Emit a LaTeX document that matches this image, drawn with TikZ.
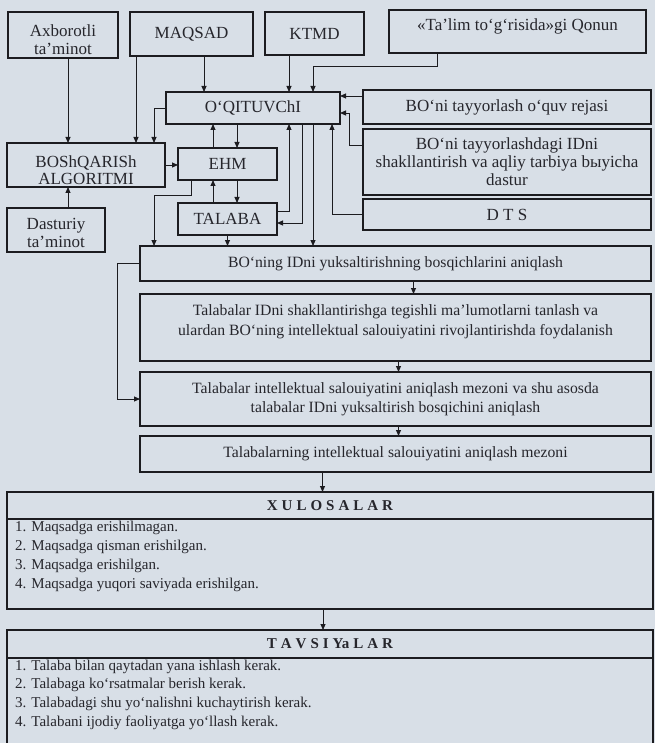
\documentclass[tikz,border=0pt]{standalone}
\usepackage{fontspec}
\setmainfont{Liberation Serif}
\usetikzlibrary{arrows.meta}
\definecolor{bg}{RGB}{216,223,231}
\definecolor{ln}{RGB}{28,28,32}
\definecolor{tx}{RGB}{38,38,44}
\begin{document}
\begin{tikzpicture}[x=1pt,y=-1pt,
  box/.style={draw=ln, line width=1.1pt, fill=bg, inner sep=0pt, outer sep=0pt, align=center, text=tx, anchor=north west},
  pal/.style={font=\fontsize{17}{18}\selectfont},
  tms/.style={font=\fontsize{15.7}{19.5}\selectfont},
  txt/.style={inner sep=0pt, align=center, text=tx},
  item/.style={inner sep=0pt, anchor=base west, text=tx, font=\fontsize{15}{18}\selectfont},
  ttl/.style={inner sep=0pt, text=tx, font=\fontsize{15}{18}\selectfont\bfseries},
  arr/.style={draw=ln, line width=0.9pt, -{Triangle[length=6pt,width=5pt]}},
  sep/.style={draw=ln, line width=1.1pt}]
\fill[bg] (0,0) rectangle (655,743);
\useasboundingbox (0,0) rectangle (655,743);

% top row
\node[box, minimum width=110pt, minimum height=46pt] (ax) at (8,12) {};
\node[txt, pal] at ([yshift=-5pt]ax.center) {Axborotli\\ta’minot};
\node[box, pal, minimum width=123pt, minimum height=44pt] (maq) at (130,12) {MAQSAD};
\node[box, pal, minimum width=99pt, minimum height=43pt] (ktmd) at (265,12) {KTMD};
\node[box, minimum width=257pt, minimum height=43pt] (qon) at (389,10) {};
\node[txt, pal] at ([yshift=5pt]qon.center) {«Ta’lim to‘g‘risida»gi Qonun};

% middle
\node[box, pal, minimum width=174pt, minimum height=32pt] (oq) at (166,92) {O‘QITUVChI};
\node[box, pal, minimum width=288pt, minimum height=34pt] (rej) at (363,90) {BO‘ni tayyorlash o‘quv rejasi};
\node[box, pal, minimum width=288pt, minimum height=66pt] (das) at (363,129) {BO‘ni tayyorlashdagi IDni\\shakllantirish va aqliy tarbiya bыyicha\\dastur};
\node[box, pal, minimum width=288pt, minimum height=31pt] (dts) at (363,199) {D T S};
\node[box, minimum width=158pt, minimum height=44pt] (bos) at (7,143) {};
\node[txt, font=\fontsize{17}{17}\selectfont] at ([yshift=-5pt]bos.center) {BOShQARISh\\ALGORITMI};
\node[box, pal, minimum width=99pt, minimum height=32pt] (ehm) at (178,148) {EHM};
\node[box, pal, minimum width=99pt, minimum height=32pt] (tal) at (178,203) {TALABA};
\node[box, minimum width=98pt, minimum height=44pt] (dast) at (7,208) {};
\node[txt, pal] at ([yshift=-3pt]dast.center) {Dasturiy\\ta’minot};

% process chain
\node[box, tms, minimum width=511pt, minimum height=35pt] (b1) at (140,246) {BO‘ning IDni yuksaltirishning bosqichlarini aniqlash};
\node[box, minimum width=511pt, minimum height=67pt] (b2) at (140,294) {};
\node[txt, tms] at ([yshift=6pt]b2.center) {Talabalar IDni shakllantirishga tegishli ma’lumotlarni tanlash va\\ulardan BO‘ning intellektual salouiyatini rivojlantirishda foydalanish};
\node[box, tms, minimum width=511pt, minimum height=54pt] (b3) at (140,372) {Talabalar intellektual salouiyatini aniqlash mezoni va shu asosda\\talabalar IDni yuksaltirish bosqichini aniqlash};
\node[box, tms, minimum width=511pt, minimum height=36pt] (b4) at (140,436) {Talabalarning intellektual salouiyatini aniqlash mezoni};

% conclusions
\node[box, minimum width=646pt, minimum height=117pt] (xul) at (7,492) {};
\draw[sep] ([yshift=-27pt]xul.north west) -- ([yshift=-27pt]xul.north east);
\node[ttl] at ([yshift=-14pt]xul.north) {X\kern4pt U\kern4pt L\kern4pt O\kern4pt S\kern4pt A\kern4pt L\kern4pt A\kern4pt R};
\node[item] at ([xshift=8pt,yshift=-39pt]xul.north west) {1. Maqsadga erishilmagan.};
\node[item] at ([xshift=8pt,yshift=-58pt]xul.north west) {2. Maqsadga qisman erishilgan.};
\node[item] at ([xshift=8pt,yshift=-77pt]xul.north west) {3. Maqsadga erishilgan.};
\node[item] at ([xshift=8pt,yshift=-96pt]xul.north west) {4. Maqsadga yuqori saviyada erishilgan.};

\node[box, minimum width=646pt, minimum height=118pt] (tav) at (7,630) {};
\draw[sep] ([yshift=-28pt]tav.north west) -- ([yshift=-28pt]tav.north east);
\node[ttl] at ([yshift=-14pt]tav.north) {T\kern4pt A\kern4pt V\kern4pt S\kern4pt I\kern4pt Ya\kern4pt L\kern4pt A\kern4pt R};
\node[item] at ([xshift=8pt,yshift=-40pt]tav.north west) {1. Talaba bilan qaytadan yana ishlash kerak.};
\node[item] at ([xshift=8pt,yshift=-58.7pt]tav.north west) {2. Talabaga ko‘rsatmalar berish kerak.};
\node[item] at ([xshift=8pt,yshift=-77.3pt]tav.north west) {3. Talabadagi shu yo‘nalishni kuchaytirish kerak.};
\node[item] at ([xshift=8pt,yshift=-96pt]tav.north west) {4. Talabani ijodiy faoliyatga yo‘llash kerak.};

% connectors
\draw[arr] ([xshift=5pt]ax.south) -- ([xshift=5pt]ax.south |- bos.north);
\draw[arr] ([xshift=6pt]maq.south west) -- ([xshift=6pt]maq.south west |- bos.north);
\draw[arr] (oq.west) -| ([xshift=-11pt]bos.north east);
\draw[arr] ([xshift=12.5pt]maq.south) -- ([xshift=12.5pt]maq.south |- oq.north);
\draw[arr] ([xshift=-25.5pt]ktmd.south) -- ([xshift=-25.5pt]ktmd.south |- oq.north);
\draw[arr] ([xshift=-80.5pt]qon.south) -- ++(0,13) -| ([xshift=-27pt]oq.north east);
\draw[arr] ([yshift=-6pt]rej.north west) -- ([yshift=-6pt]rej.north west -| oq.east);
\draw[arr] ([yshift=-16pt]das.north west) -- ++(-14,0) |- ([yshift=-21pt]oq.north east);
\draw[arr] (dts.west) -| ([xshift=-8pt]oq.south east);
\draw[arr] ([xshift=35pt]ehm.north west) -- ([xshift=35pt]ehm.north west |- oq.south);
\draw[arr] ([xshift=59pt]ehm.north west |- oq.south) -- ([xshift=59pt]ehm.north west);
\draw[arr] ([xshift=35pt]tal.north west) -- ([xshift=35pt]tal.north west |- ehm.south);
\draw[arr] ([xshift=59pt]ehm.south west) -- ([xshift=59pt]ehm.south west |- tal.north);
\draw[arr] (bos.east) -- (bos.east -| ehm.west);
\draw[arr] ([xshift=13pt]ehm.south west) -- ++(0,15) -| ([xshift=14pt]b1.north west);
\draw[arr] ([yshift=-8pt]tal.north east) -| ([xshift=-51pt]oq.south east);
\draw[arr] ([xshift=-38pt]oq.south east) |- ([yshift=-20pt]tal.north east);
\draw[arr] ([xshift=-27pt]oq.south east) -- ([xshift=-27pt]oq.south east |- b1.north);
\draw[arr] (tal.south) -- (tal.south |- b1.north);
\draw[arr] ([xshift=12pt]dast.north) -- ([xshift=12pt]dast.north |- bos.south);
\draw[arr] ([xshift=18pt]b1.south) -- ([xshift=18pt]b1.south |- b2.north);
\draw[arr] ([xshift=3pt]b2.south) -- ([xshift=3pt]b2.south |- b3.north);
\draw[arr] ([xshift=3pt]b3.south) -- ([xshift=3pt]b3.south |- b4.north);
\draw[arr] ([xshift=-73pt]b4.south) -- ([xshift=-73pt]b4.south |- xul.north);
\draw[arr] ([xshift=-7pt]xul.south) -- ([xshift=-7pt]xul.south |- tav.north);
\draw[arr] (b1.west) -- ++(-23,0) |- (b3.west);
\end{tikzpicture}
\end{document}
